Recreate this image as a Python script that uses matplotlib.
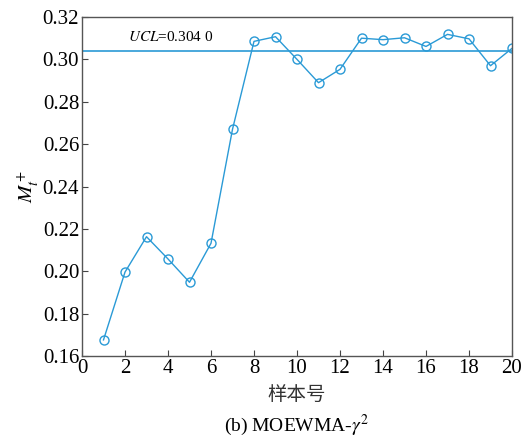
import numpy as np
import matplotlib
matplotlib.use("Agg")
import matplotlib.pyplot as plt

# sample index and monitored statistic
samples = np.arange(1, 21)
m_plus = [0.1676, 0.1996, 0.2163, 0.2058, 0.1948, 0.2132, 0.2670, 0.3085,
          0.3107, 0.3000, 0.2890, 0.2953, 0.3100, 0.3093, 0.3102, 0.3061,
          0.3118, 0.3097, 0.2970, 0.3052]
ucl = 0.3040
x_ticks = list(range(0, 21, 2))
y_ticks = [0.16, 0.18, 0.20, 0.22, 0.24, 0.26, 0.28, 0.30, 0.32]

plt.rcParams["font.family"] = ["Liberation Serif", "Noto Sans CJK SC"]
plt.rcParams["mathtext.fontset"] = "stix"

blue = "#2a9ad6"

fig = plt.figure(figsize=(5.27, 4.42), dpi=100)
ax = fig.add_axes([82 / 527, 1 - 356 / 442, 430 / 527, 339 / 442])

ax.plot(samples, m_plus, color=blue, lw=1.0, marker="o", ms=6.5,
        mfc="none", mec=blue, mew=1.0)
ax.axhline(ucl, color=blue, lw=1.2)
ax.text(2.15, 0.3105, r"$UCL$=0.304 0", fontsize=11, va="center", ha="left")

ax.set_xlim(0, 20)
ax.set_ylim(0.16, 0.32)
ax.set_xticks(x_ticks)
ax.set_yticks(y_ticks)
ax.set_yticklabels([f"{v:.2f}" for v in y_ticks])
ax.tick_params(direction="in", length=4, labelsize=15, top=False, right=False,
               color="#444444", pad=2)
for s in ax.spines.values():
    s.set_color("#555555")
    s.set_linewidth(1.0)

ax.set_ylabel(r"$M_t^+$", fontsize=15, labelpad=2)
fig.text(297 / 527, 1 - 394 / 442, "样本号", fontsize=14, ha="center",
         va="center", family=["Noto Sans CJK SC"], color="#333333")
fig.text(297 / 527, 1 - 425 / 442, r"(b) MOEWMA-$\gamma^2$", fontsize=14,
         ha="center", va="center")

fig.savefig("out.png", dpi=100)
